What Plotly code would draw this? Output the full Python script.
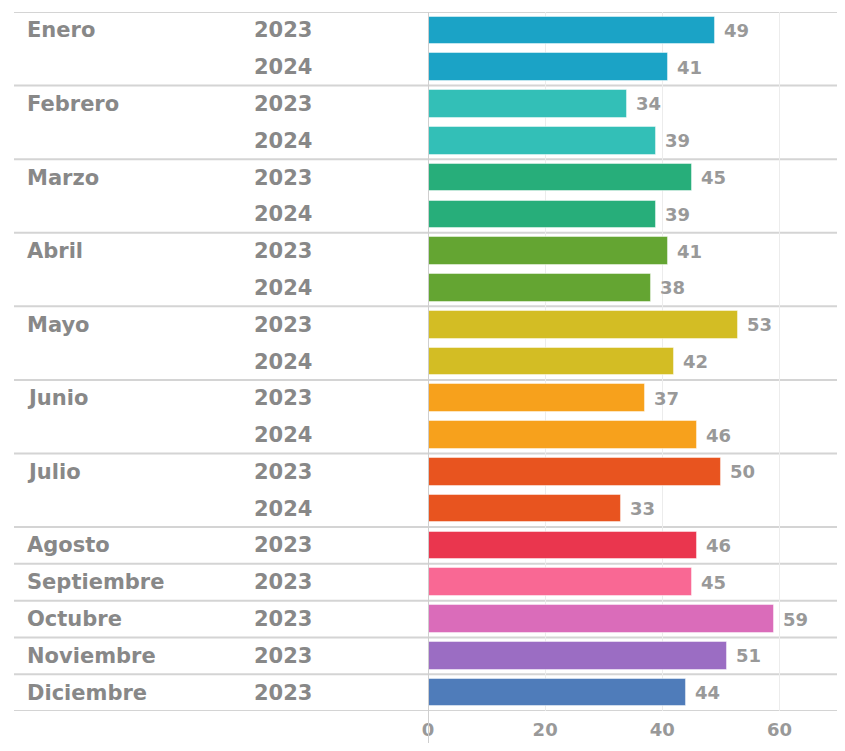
import plotly.graph_objects as go

months = ["Enero", "Febrero", "Marzo", "Abril", "Mayo", "Junio", "Julio",
          "Agosto", "Septiembre", "Octubre", "Noviembre", "Diciembre"]
values_2023 = [49, 34, 45, 41, 53, 37, 50, 46, 45, 59, 51, 44]
values_2024 = [41, 39, 39, 38, 42, 46, 33]  # Enero..Julio
colors = ["#1BA3C6", "#33BFB7", "#27AE7A", "#64A532", "#D3BD24", "#F7A11C",
          "#E8541F", "#EA364E", "#F96894", "#DA6CBA", "#9B6DC3", "#4F7CBA"]
x_ticks = [0, 20, 40, 60]

# build rows
row_month, row_year, row_val, row_color, group_start = [], [], [], [], []
for i, m in enumerate(months):
    group_start.append(len(row_val))
    row_month.append(m); row_year.append("2023"); row_val.append(values_2023[i]); row_color.append(colors[i])
    if i < len(values_2024):
        row_month.append(""); row_year.append("2024"); row_val.append(values_2024[i]); row_color.append(colors[i])
n = len(row_val)
ypos = list(range(n))

# page body has an 8px margin -> figure is 16px smaller than the window
W, H = 829, 735
TOP, BOT = 4, 32
x0_px = 417
px_per_unit = (771 - x0_px) / 60

fig = go.Figure()
fig.add_trace(go.Bar(
    x=row_val, y=ypos, orientation="h", width=0.75,
    marker=dict(color=row_color, line=dict(color="rgba(255,255,255,0.45)", width=1)),
    hoverinfo="x",
))

txt_font = dict(family="DejaVu Sans", size=18, color="#999999", weight="bold")
lbl_font = dict(family="DejaVu Sans", size=21, color="#888888", weight="bold")

annotations = []
for yv, v in zip(ypos, row_val):
    annotations.append(dict(x=v, y=yv, xref="x", yref="y", text=str(v), showarrow=False,
                            xanchor="left", yanchor="middle", xshift=7, font=txt_font))
for yv, m, yr in zip(ypos, row_month, row_year):
    if m:
        annotations.append(dict(x=11 / W, y=yv, xref="paper", yref="y", text=m, showarrow=False,
                                xanchor="left", yanchor="middle", font=lbl_font))
    annotations.append(dict(x=240 / W, y=yv, xref="paper", yref="y", text=yr, showarrow=False,
                            xanchor="left", yanchor="middle", font=lbl_font))

shapes = []
for g in group_start + [n]:
    shapes.append(dict(type="line", xref="paper", yref="y", x0=0, x1=1, y0=g - 0.5, y1=g - 0.5,
                       line=dict(color="#d4d4d4", width=2), layer="below"))
plot_h = H - TOP - BOT
shapes.append(dict(type="line", xref="x", yref="paper", x0=0, x1=0, y0=-BOT / plot_h, y1=1,
                   line=dict(color="#cfcfcf", width=2), layer="above"))

fig.update_layout(
    width=W, height=H,
    margin=dict(l=0, r=0, t=TOP, b=BOT),
    plot_bgcolor="white", paper_bgcolor="white",
    showlegend=False,
    bargap=0,
    xaxis=dict(domain=[x0_px / W, 1], range=[0, (W - x0_px) / px_per_unit],
               tickvals=x_ticks, showgrid=True, gridcolor="#ececec", gridwidth=1,
               zeroline=False, showline=False, ticks="",
               tickfont=txt_font, ticklabelstandoff=6),
    yaxis=dict(range=[n - 0.5, -0.5], showticklabels=False, showgrid=False,
               zeroline=False, showline=False, fixedrange=True),
    annotations=annotations,
    shapes=shapes,
)

fig.write_html("out.html")
